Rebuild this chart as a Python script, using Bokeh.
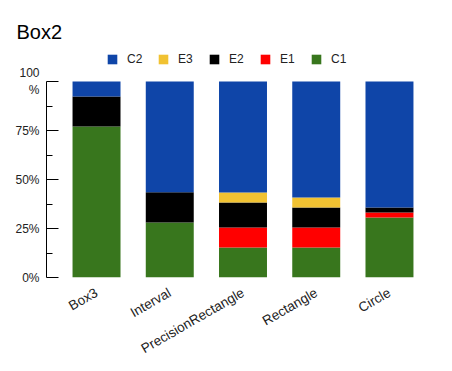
from bokeh.plotting import figure
from bokeh.models import FactorRange, Range1d, Legend, LegendItem, FixedTicker
from bokeh.embed import file_html
from bokeh.resources import INLINE
import math

categories = ["Box3", "Interval", "PrecisionRectangle", "Rectangle", "Circle"]
C1 = [77.0, 28.1, 15.3, 15.3, 30.6]
E1 = [0.0, 0.0, 10.2, 10.2, 2.6]
E2 = [15.4, 15.4, 12.8, 10.2, 2.5]
E3 = [0.0, 0.0, 5.1, 5.1, 0.0]
C2 = [7.6, 56.5, 56.6, 59.2, 64.3]

series = ["C1", "E1", "E2", "E3", "C2"]
colors = ["#38761d", "#ff0000", "#000000", "#f1c232", "#0f45a8"]
y_ticks = [0, 25, 50, 75, 100]
y_minor = [12.5, 37.5, 62.5, 87.5]
y_tick_labels = ["0%", "25%", "50%", "75%", "100\n%"]
title_text = "Box2"

data = dict(x=categories, C1=C1, E1=E1, E2=E2, E3=E3, C2=C2)

FONT = "Liberation Sans"

# frame spans from page y=45 to y=277; 100% sits at y=81 (196 px per 100%)
p = figure(
    width=446, height=366,
    x_range=FactorRange(factors=categories, range_padding=0.0732),
    y_range=Range1d(0, 100 * 232 / 196),
    output_backend="svg", toolbar_location=None,
    title=title_text,
    min_border_left=46, min_border_top=45, min_border_right=7, min_border_bottom=89,
)

rs = p.vbar_stack(series, x="x", width=0.655, color=colors, source=data, line_width=0)

items = [LegendItem(label=s, renderers=[r]) for s, r in zip(series, rs)][::-1]
legend = Legend(items=items, orientation="horizontal", location=(60, 211),
                glyph_width=12, glyph_height=12, label_standoff=9, spacing=8,
                label_width=22, label_height=12,
                label_text_font=FONT, label_text_font_size="12px",
                label_text_color="#222222", border_line_color=None,
                background_fill_alpha=0, padding=0, margin=0)
p.add_layout(legend)

p.title.text_font = FONT
p.title.text_font_size = "20px"
p.title.text_font_style = "normal"
p.title.text_color = "#000000"
p.title.align = "left"
p.title.offset = -30
p.title.standoff = 5

p.xgrid.grid_line_color = None
p.ygrid.grid_line_color = None
p.outline_line_color = None

ya = p.yaxis[0]
ya.bounds = (0, 100)
ya.ticker = FixedTicker(ticks=y_ticks, minor_ticks=y_minor)
ya.major_label_overrides = {t: l for t, l in zip(y_ticks, y_tick_labels)}
ya.major_tick_in = 12
ya.major_tick_out = 0
ya.minor_tick_in = 6
ya.minor_tick_out = 0
ya.axis_line_color = "#000000"
ya.major_tick_line_color = "#000000"
ya.minor_tick_line_color = "#000000"
ya.major_label_text_font = FONT
ya.major_label_text_font_size = "12px"
ya.major_label_text_color = "#222222"
ya.major_label_standoff = 7

xa = p.xaxis[0]
xa.axis_line_color = None
xa.major_tick_line_color = None
xa.minor_tick_line_color = None
xa.major_label_orientation = math.pi / 6
xa.major_label_text_font = FONT
xa.major_label_text_font_size = "13.5px"
xa.major_label_text_color = "#222222"
xa.major_label_standoff = 8

open("out.html", "w").write(file_html(p, INLINE))
